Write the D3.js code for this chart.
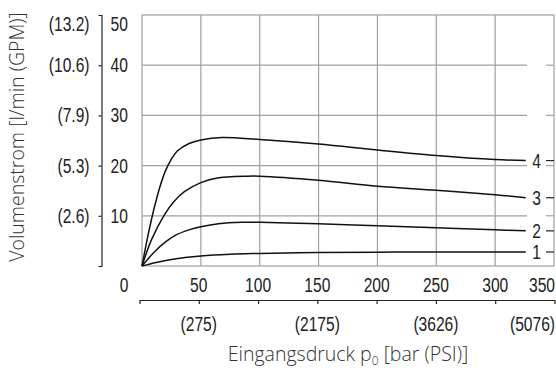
<!DOCTYPE html>
<html>
<head>
<meta charset="utf-8">
<script src="https://cdn.jsdelivr.net/npm/d3@7/dist/d3.min.js"></script>
<style>
  body { margin: 0; background: #fff; }
  svg { display: block; }
  .num { font-family: "Liberation Sans", Arial, sans-serif; font-size: 19.5px; fill: #222; }
  .title { font-family: "Open Sans", "Noto Sans", sans-serif; font-size: 19.5px; font-weight: 300; fill: #333; }
</style>
</head>
<body>
<div id="chart"></div>
<script>
// bar ticks on the main x axis
const barTicks = [0, 50, 100, 150, 200, 250, 300, 350];
const psiTicks = [50, 150, 250, 350];
const psiLabels = ["(275)", "(2175)", "(3626)", "(5076)"];
// l/min and the GPM equivalents
const flowTicks = [10, 20, 30, 40, 50];
const gpmLabels = ["(2.6)", "(5.3)", "(7.9)", "(10.6)", "(13.2)"];

// curves: [pressure bar, flow l/min]
const curve1 = [[0, 0], [12, 0.7], [25, 1.3], [50, 2.0], [75, 2.35], [100, 2.5], [150, 2.7], [200, 2.75], [250, 2.8], [300, 2.8], [326, 2.8]];
const curve2 = [[0, 0], [10.7, 2.85], [20, 4.8], [29, 6.2], [40, 7.2], [50, 7.8], [65, 8.4], [85, 8.7], [100, 8.7], [150, 8.4], [200, 8.0], [250, 7.6], [300, 7.2], [326, 7.0]];
const curve3 = [[0, 0], [8, 5.2], [19, 10.2], [27, 12.8], [36, 14.8], [50, 16.6], [63, 17.5], [90, 17.9], [100, 17.9], [150, 17.1], [200, 15.9], [250, 15.1], [300, 14.2], [326, 13.6]];
const curve4 = [[0, 0], [5, 6], [10, 11.2], [15, 15.6], [20, 19], [25, 21.3], [30, 22.9], [40, 24.4], [50, 25.1], [68, 25.6], [100, 25.2], [150, 24.3], [200, 23.1], [250, 22.0], [300, 21.2], [326, 21.0]];
const curveNames = ["1", "2", "3", "4"];

const width = 556, height = 368;
const plot = {left: 142, right: 554, top: 15, bottom: 266};
const squeeze = 0.8; // the numbers use a condensed face

const svg = d3.select("#chart").append("svg")
    .attr("width", width)
    .attr("height", height);

const x = d3.scaleLinear().domain([0, 350]).range([plot.left, plot.right]);
// labels and the psi axis sit a bit to the left of the grid
const xLab = d3.scaleLinear().domain([0, 350]).range([139.5, 554.5]);
const y = d3.scaleLinear().domain([0, 50]).range([plot.bottom, plot.top]);

// place a condensed number
function place(sel, fx, fy) {
    sel.attr("transform", (d, i) => `translate(${fx(d, i)},${fy(d, i)}) scale(${squeeze},1)`);
}

const grid = svg.append("g")
    .attr("stroke", "#a0a0a0")
    .attr("stroke-width", 1.2)
    .attr("fill", "none");

// vertical grid
grid.selectAll(".vx")
    .data(barTicks.filter(d => d > 0 && d < 350))
    .join("line")
    .attr("x1", d => x(d)).attr("x2", d => x(d))
    .attr("y1", plot.top).attr("y2", plot.bottom);

// horizontal grid, broken where the curve numbers are
const gapL = 527, gapR = 546;
flowTicks.filter(d => d < 50).forEach(v => {
    grid.append("line").attr("x1", plot.left).attr("x2", gapL).attr("y1", y(v)).attr("y2", y(v));
    grid.append("line").attr("x1", gapR).attr("x2", plot.right).attr("y1", y(v)).attr("y2", y(v));
});

grid.append("rect")
    .attr("x", plot.left).attr("y", plot.top)
    .attr("width", plot.right - plot.left)
    .attr("height", plot.bottom - plot.top);

// curves
const line = d3.line()
    .x(d => x(d[0]))
    .y(d => y(d[1]))
    .curve(d3.curveCatmullRom.alpha(0.5));

const curves = [curve1, curve2, curve3, curve4];

svg.append("g")
    .selectAll("path")
    .data(curves)
    .join("path")
    .attr("d", line)
    .attr("fill", "none")
    .attr("stroke", "#111")
    .attr("stroke-width", 1.5);

// curve numbers with small dashes at the right border
const ends = curves.map((c, i) => ({name: curveNames[i], v: c[c.length - 1][1]}));
svg.append("g")
    .selectAll("line")
    .data(ends)
    .join("line")
    .attr("x1", gapR).attr("x2", plot.right)
    .attr("y1", d => y(d.v)).attr("y2", d => y(d.v))
    .attr("stroke", "#222")
    .attr("stroke-width", 1.2);

svg.append("g")
    .selectAll("text")
    .data(ends)
    .join("text")
    .attr("class", "num")
    .attr("dy", "0.36em")
    .attr("text-anchor", "middle")
    .text(d => d.name)
    .call(place, () => 536.5, d => y(d.v));

// left axis: line with ticks to the left, l/min on the right side
const axisX = 101.5;
const yAxis = d3.axisLeft(y)
    .tickValues([10, 20, 30, 40])
    .tickSize(3)
    .tickSizeOuter(3)
    .tickFormat("");
svg.append("g")
    .attr("transform", `translate(${axisX},0)`)
    .call(yAxis)
    .call(g => g.selectAll("path, line").attr("stroke", "#222").attr("stroke-width", 1.2));

const labelY = d => d === 50 ? y(d) + 9 : y(d);

svg.append("g")
    .selectAll("text")
    .data(flowTicks)
    .join("text")
    .attr("class", "num")
    .attr("dy", "0.36em")
    .text(d => d)
    .call(place, () => 110.5, labelY);

svg.append("g")
    .selectAll("text")
    .data(flowTicks)
    .join("text")
    .attr("class", "num")
    .attr("dy", "0.36em")
    .attr("text-anchor", "end")
    .text((d, i) => gpmLabels[i])
    .call(place, () => 89.5, labelY);

// bar labels under the plot
svg.append("g")
    .selectAll("text")
    .data(barTicks)
    .join("text")
    .attr("class", "num")
    .attr("text-anchor", d => d === 350 ? "end" : "middle")
    .text(d => d)
    .call(place, d => d === 0 ? xLab(d) - 15.5 : d === 350 ? 555 : xLab(d), () => 291.5);

// psi axis
const psiAxis = d3.axisBottom(xLab)
    .tickValues(barTicks.filter(d => d > 0 && d < 350))
    .tickSize(4)
    .tickSizeOuter(4)
    .tickFormat("");
svg.append("g")
    .attr("transform", "translate(0,300)")
    .call(psiAxis)
    .call(g => g.selectAll("path, line").attr("stroke", "#222").attr("stroke-width", 1.2));

svg.append("g")
    .selectAll("text")
    .data(psiTicks)
    .join("text")
    .attr("class", "num")
    .attr("text-anchor", d => d === 350 ? "end" : "middle")
    .text((d, i) => psiLabels[i])
    .call(place, d => d === 350 ? 555 : xLab(d), () => 330.5);

// axis titles
const xt = svg.append("text")
    .attr("class", "title")
    .attr("x", 348)
    .attr("y", 361)
    .attr("text-anchor", "middle");
xt.append("tspan").text("Eingangsdruck p");
xt.append("tspan").attr("dy", 4).style("font-size", "12px").text("0");
xt.append("tspan").attr("dy", -4).text(" [bar (PSI)]");

svg.append("text")
    .attr("class", "title")
    .attr("transform", "translate(24,137) rotate(-90)")
    .attr("text-anchor", "middle")
    .text("Volumenstrom [l/min (GPM)]");
</script>
</body>
</html>
